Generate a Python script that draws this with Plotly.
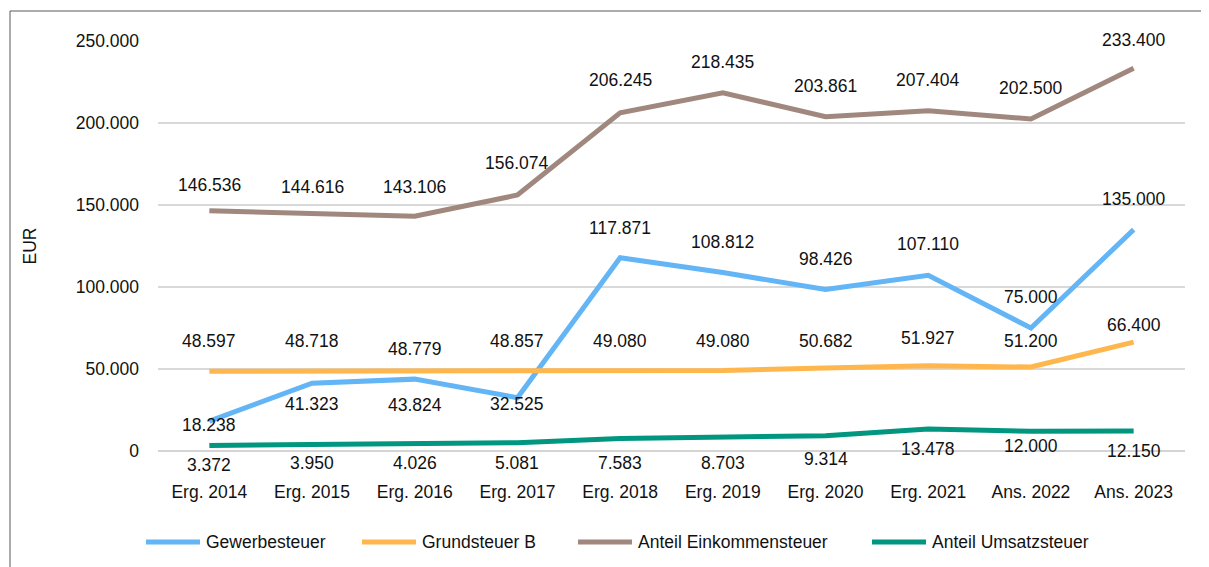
import plotly.graph_objects as go

categories = ["Erg. 2014", "Erg. 2015", "Erg. 2016", "Erg. 2017", "Erg. 2018",
              "Erg. 2019", "Erg. 2020", "Erg. 2021", "Ans. 2022", "Ans. 2023"]
gewerbesteuer = [18238, 41323, 43824, 32525, 117871, 108812, 98426, 107110, 75000, 135000]
grundsteuer_b = [48597, 48718, 48779, 48857, 49080, 49080, 50682, 51927, 51200, 66400]
einkommensteuer = [146536, 144616, 143106, 156074, 206245, 218435, 203861, 207404, 202500, 233400]
umsatzsteuer = [3372, 3950, 4026, 5081, 7583, 8703, 9314, 13478, 12000, 12150]
series_names = ["Gewerbesteuer", "Grundsteuer B", "Anteil Einkommensteuer", "Anteil Umsatzsteuer"]
y_ticks = [0, 50000, 100000, 150000, 200000, 250000]

# style: label vertical offsets (px), colours, legend placement (px in page)
off_gew = [-4, -21, -26, -6, 30, 31, 31, 31, 31, 31]
off_gru = [30, 30, 22, 30, 30, 30, 27, 28, 26, 17]
off_ein = [26, 27, 29, 32, 33, 31, 31, 31, 31, 28]
off_ums = [-20, -18, -19, -20, -24, -26, -23, -20, -15, -20]
colors = ["#64B5F6", "#FFB74D", "#A1887F", "#00967F"]
legend_line_x = [146, 362, 578, 872]

FONT = "Liberation Sans, Arial, sans-serif"
FS = 17.5
TXT = "#111111"

W, H = 1201, 559
PLOT_L, PLOT_R, PLOT_T, PLOT_B = 158, 1185, 41, 451


def de(v):
    return f"{v:,}".replace(",", ".")


def px_x(p):
    return (p - PLOT_L) / (PLOT_R - PLOT_L)


def px_y(p):
    return (PLOT_B - p) / (PLOT_B - PLOT_T)


all_vals = [gewerbesteuer, grundsteuer_b, einkommensteuer, umsatzsteuer]
all_offs = [off_gew, off_gru, off_ein, off_ums]

fig = go.Figure()
annotations = []
border = dict(color="#595959", width=1)
shapes = [
    dict(type="line", xref="paper", yref="paper", x0=px_x(10), x1=px_x(1260),
         y0=px_y(11), y1=px_y(11), line=border, layer="below"),
    dict(type="line", xref="paper", yref="paper", x0=px_x(10), x1=px_x(10),
         y0=px_y(11), y1=px_y(640), line=border, layer="below"),
]
for name, vals, color, offs, lx in zip(series_names, all_vals, colors, all_offs, legend_line_x):
    fig.add_trace(go.Scatter(x=categories, y=vals, name=name, mode="lines",
                             line=dict(color=color, width=5), hoverinfo="skip",
                             showlegend=False))
    for c, v, o in zip(categories, vals, offs):
        annotations.append(dict(x=c, y=v, text=de(v), showarrow=False, yshift=o,
                                font=dict(family=FONT, size=FS, color=TXT)))
    # legend entry
    shapes.append(dict(type="line", xref="paper", yref="paper",
                       x0=px_x(lx), x1=px_x(lx + 54), y0=px_y(542), y1=px_y(542),
                       line=dict(color=color, width=5)))
    annotations.append(dict(xref="paper", yref="paper", x=px_x(lx + 58), y=px_y(542),
                            xanchor="left", yanchor="middle", text=name, showarrow=False,
                            font=dict(family=FONT, size=FS, color=TXT)))

fig.update_layout(
    width=W, height=H,
    margin=dict(l=PLOT_L - 8, r=W + 8 - PLOT_R, t=PLOT_T - 8, b=H + 8 - PLOT_B),
    paper_bgcolor="white", plot_bgcolor="white",
    font=dict(family=FONT, size=FS, color=TXT),
    annotations=annotations,
    shapes=shapes,
    showlegend=False,
)
fig.update_xaxes(type="category", range=[-0.5, len(categories) - 0.5],
                 showgrid=False, showline=False, zeroline=False,
                 tickfont=dict(family=FONT, size=FS, color=TXT), ticklabelstandoff=28,
                 automargin=False)
fig.update_yaxes(range=[0, 250000], tickvals=y_ticks,
                 ticktext=[de(v) for v in y_ticks], showgrid=True,
                 gridcolor="#d9d9d9", gridwidth=1.5, zeroline=True, zerolinecolor="#d4d4d4",
                 zerolinewidth=2, showline=False, ticklabelstandoff=18, automargin=False,
                 tickfont=dict(family=FONT, size=FS, color=TXT),
                 title=dict(text="EUR", standoff=34, font=dict(family=FONT, size=FS, color=TXT)))

fig.write_html("out.html")
